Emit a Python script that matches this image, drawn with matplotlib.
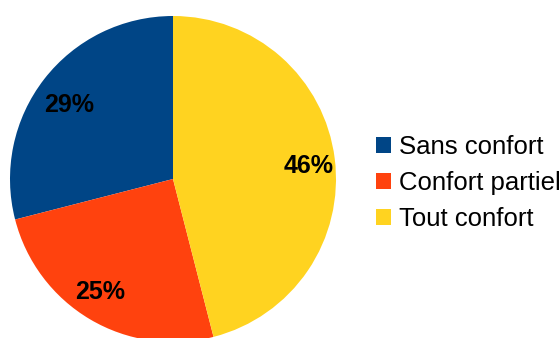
import matplotlib.pyplot as plt
from matplotlib.patches import Patch
from matplotlib.transforms import offset_copy

# housing comfort shares
categories = ["Sans confort", "Confort partiel", "Tout confort"]
shares = [29, 25, 46]
colors = ["#004586", "#ff420e", "#ffd320"]

FONT = "Liberation Sans"

# small shifts of the percent labels, in points (x right, y up)
label_nudges = [(0.0, -3.3), (-4.3, 2.5), (3.6, -1.1)]


def main():
    fig = plt.figure(figsize=(5.6, 3.38), dpi=100)

    # pie radius 163 px, centered at (173, 179) px
    ax = fig.add_axes([10 / 560, -4 / 338, 326 / 560, 326 / 338])

    wedges, _, autotexts = ax.pie(
        shares,
        colors=colors,
        startangle=90,
        counterclock=True,
        autopct="%d%%",
        pctdistance=0.81,
        radius=1.0,
        wedgeprops=dict(linewidth=0),
        textprops=dict(family=FONT, fontsize=18, fontweight="bold", color="black"),
    )
    for t, (dx, dy) in zip(autotexts, label_nudges):
        t.set_va("center_baseline")
        t.set_transform(offset_copy(ax.transData, fig=fig, x=dx, y=dy, units="points"))

    ax.set_xlim(-1, 1)
    ax.set_ylim(-1, 1)
    ax.set_aspect("equal")
    ax.axis("off")

    handles = [Patch(facecolor=c, edgecolor="none") for c in colors]
    fig.legend(
        handles,
        categories,
        loc="center left",
        bbox_to_anchor=(363 / 560, 1 - 183 / 338),
        frameon=False,
        prop=dict(family=FONT, size=18.5),
        handlelength=0.6,
        handleheight=0.6,
        handletextpad=0.3,
        labelspacing=0.47,
        borderpad=0,
    )

    fig.savefig("out.png", dpi=100)


if __name__ == "__main__":
    main()
